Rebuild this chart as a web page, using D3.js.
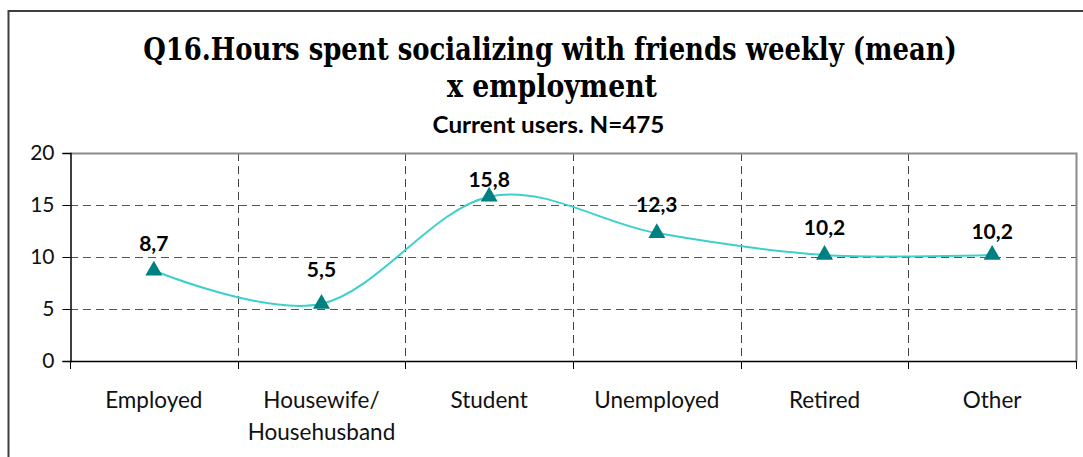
<!DOCTYPE html>
<html>
<head>
<meta charset="utf-8">
<script src="https://cdn.jsdelivr.net/npm/d3@7"></script>
<style>
  html, body { margin: 0; padding: 0; background: #fff; }
  svg { display: block; }
</style>
</head>
<body>
<svg id="chart" width="1083" height="457"></svg>
<script>
// ---- data ----
const categories = ["Employed", "Housewife/\nHousehusband", "Student", "Unemployed", "Retired", "Other"];
const values = [8.7, 5.5, 15.8, 12.3, 10.2, 10.2];
const valueLabels = ["8,7", "5,5", "15,8", "12,3", "10,2", "10,2"];
const yTicks = [0, 5, 10, 15, 20];
const titleLines = ["Q16.Hours spent socializing with friends weekly (mean)", "x employment"];
const subtitle = "Current users. N=475";
// per-label vertical nudge (px above point), as placed in the original
const labelLift = [20, 27, 10, 21, 20, 16];

// ---- layout ----
const W = 1083, H = 457;
const plot = { left: 70, right: 1076, top: 153, bottom: 361 };
const sans = "Lato, 'Noto Sans', sans-serif";
const svg = d3.select("#chart");

// outer frame (only left and top visible)
svg.append("rect")
  .attr("x", 8.5).attr("y", 11).attr("width", W + 20).attr("height", H + 20)
  .attr("fill", "none").attr("stroke", "#3f3f3f").attr("stroke-width", 2);

const x = d3.scaleBand().domain(categories).range([plot.left, plot.right]).padding(0);
const y = d3.scaleLinear().domain([0, 20]).range([plot.bottom, plot.top]);

// horizontal dashed gridlines
svg.append("g").selectAll("line")
  .data(yTicks.filter(t => t > 0 && t < 20))
  .join("line")
  .attr("x1", plot.left).attr("x2", plot.right)
  .attr("y1", d => Math.round(y(d)) + 0.5).attr("y2", d => Math.round(y(d)) + 0.5)
  .attr("stroke", "#555").attr("stroke-width", 1).attr("stroke-dasharray", "8,5");

// vertical dashed gridlines at category boundaries
svg.append("g").selectAll("line")
  .data(categories.slice(1))
  .join("line")
  .attr("x1", d => Math.round(x(d)) + 0.5).attr("x2", d => Math.round(x(d)) + 0.5)
  .attr("y1", plot.top).attr("y2", plot.bottom)
  .attr("stroke", "#444").attr("stroke-width", 1).attr("stroke-dasharray", "8,5");

// plot area top and right border
svg.append("path")
  .attr("d", `M${plot.left},${plot.top + 0.5}H${plot.right + 0.5}V${plot.bottom}`)
  .attr("fill", "none").attr("stroke", "#8a8a8a").attr("stroke-width", 2);

// y axis
const yAxis = d3.axisLeft(y).tickValues(yTicks).tickSize(8).tickPadding(8).tickFormat(d3.format("d"));
const gy = svg.append("g").attr("transform", `translate(${plot.left + 0.5},0)`).call(yAxis);
gy.select(".domain").attr("stroke", "#000").attr("stroke-width", 1.5);
gy.selectAll(".tick line").attr("stroke", "#000").attr("stroke-width", 1);
gy.selectAll(".tick text")
  .attr("font-family", sans)
  .attr("font-size", 21).attr("fill", "#111");

// x axis line and boundary ticks
svg.append("line")
  .attr("x1", plot.left).attr("x2", plot.right)
  .attr("y1", plot.bottom + 0.5).attr("y2", plot.bottom + 0.5)
  .attr("stroke", "#000").attr("stroke-width", 1.5);
const boundaries = categories.map(c => x(c)).concat([plot.right]);
svg.append("g").selectAll("line")
  .data(boundaries)
  .join("line")
  .attr("x1", d => Math.round(d) + 0.5).attr("x2", d => Math.round(d) + 0.5)
  .attr("y1", plot.bottom).attr("y2", plot.bottom + 8)
  .attr("stroke", "#000").attr("stroke-width", 1);

// x category labels
svg.append("g").selectAll("text")
  .data(categories)
  .join("text")
  .attr("x", d => x(d) + x.bandwidth() / 2)
  .attr("y", 408)
  .attr("text-anchor", "middle")
  .attr("font-family", sans)
  .attr("font-size", 22.5).attr("fill", "#111")
  .each(function(d) {
    const parts = d.split("\n");
    d3.select(this).selectAll("tspan").data(parts).join("tspan")
      .attr("x", x(d) + x.bandwidth() / 2)
      .attr("dy", (p, i) => i === 0 ? 0 : 32)
      .text(p => p);
  });

// smoothed line
const pts = categories.map((c, i) => [x(c) + x.bandwidth() / 2, y(values[i])]);
svg.append("path")
  .datum(pts)
  .attr("d", d3.line().curve(d3.curveCatmullRom.alpha(0)))
  .attr("fill", "none").attr("stroke", "#3cd0cc").attr("stroke-width", 2);

// triangle markers
const tri = d3.symbol().type(d3.symbolTriangle).size(125);
svg.append("g").selectAll("path")
  .data(pts)
  .join("path")
  .attr("transform", d => `translate(${d[0]},${d[1]})`)
  .attr("d", tri)
  .attr("fill", "#008080");

// data labels
svg.append("g").selectAll("text")
  .data(pts)
  .join("text")
  .attr("x", d => d[0])
  .attr("y", (d, i) => d[1] - labelLift[i])
  .attr("text-anchor", "middle")
  .attr("font-family", sans)
  .attr("font-weight", "bold")
  .attr("font-size", 21).attr("fill", "#000")
  .text((d, i) => valueLabels[i]);

// titles: horizontally condensed to the target width
const serif = "'DejaVu Serif Condensed', 'DejaVu Serif', 'Liberation Serif', serif";
function squeezeText(str, cx, baseline, family, size, targetW) {
  const t = svg.append("text")
    .attr("x", 0).attr("y", 0)
    .attr("text-anchor", "middle")
    .attr("font-family", family)
    .attr("font-weight", "bold").attr("font-size", size)
    .text(str);
  const w = t.node().getComputedTextLength();
  const sx = w > 0 ? targetW / w : 1;
  t.attr("transform", `translate(${cx},${baseline}) scale(${sx},1)`);
  return t;
}
squeezeText(titleLines[0], 550, 60, serif, 31, 814);
squeezeText(titleLines[1], 552, 97, serif, 31, 210);
squeezeText(subtitle, 548.5, 133, sans, 22, 232);
</script>
</body>
</html>
